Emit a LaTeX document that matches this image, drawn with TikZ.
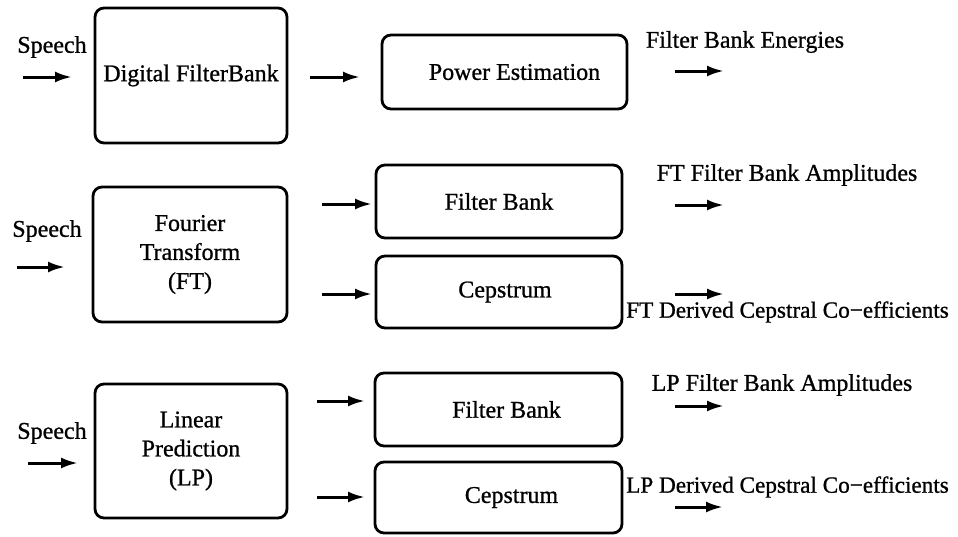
\documentclass[tikz,border=0pt]{standalone}
\usepackage{fontspec}
\setmainfont{Liberation Serif}[FakeBold=0.9]
\usetikzlibrary{arrows.meta}
\tikzset{
  blk/.style={draw, line width=2.8pt, rounded corners=9pt, inner sep=0pt, align=center, font=\fontsize{24}{29}\selectfont},
  lbl/.style={inner sep=0pt, font=\fontsize{24}{29}\selectfont},
  lblw/.style={lbl, anchor=west, font=\fontsize{23.2}{29}\selectfont},
  arr/.style={line width=3pt, -{Latex[length=17pt,width=11pt]}}
}
\begin{document}
\begin{tikzpicture}[x=1pt,y=-1pt]
\useasboundingbox (0,0) rectangle (958,536);
% boxes
\node[blk, minimum width=192pt, minimum height=135pt] (dfb) at (191,75.5) {Digital FilterBank};
\node[blk, minimum width=245pt, minimum height=74pt] (pow) at (504.5,72) {\hspace*{20pt}Power Estimation};
\node[blk, minimum width=194pt, minimum height=135pt] (ft) at (190,254.5) {Fourier\\Transform\\(FT)};
\node[blk, minimum width=246pt, minimum height=73pt] (ftfb) at (499,201.5) {Filter Bank};
\node[blk, minimum width=246pt, minimum height=72pt] (ftcep) at (499,292) {\hspace*{12pt}Cepstrum};
\node[blk, minimum width=192pt, minimum height=134pt] (lp) at (191,451) {Linear\\Prediction\\(LP)};
\node[blk, minimum width=247pt, minimum height=73pt] (lpfb) at (498.5,409.5) {\hspace*{16pt}Filter Bank};
\node[blk, minimum width=247pt, minimum height=71pt] (lpcep) at (498.5,497.5) {\hspace*{26pt}Cepstrum};
% labels
\node[lbl] (s1) at (52,47) {Speech};
\node[lbl] (s2) at (47,231) {Speech};
\node[lbl] (s3) at (52,433) {Speech};
\node[lbl] (o1) at (745,42) {Filter Bank Energies};
\node[lbl] (o2) at (787,175) {FT Filter Bank Amplitudes};
\node[lblw] (o3) at (626,312) {FT Derived Cepstral Co−efficients};
\node[lbl] (o4) at (782,385) {LP Filter Bank Amplitudes};
\node[lblw] (o5) at (626,487) {LP Derived Cepstral Co−efficients};
% arrow end points
\coordinate (a1s) at (23,77);   \coordinate (a1e) at (72,77);
\coordinate (a2s) at (310,77);  \coordinate (a2e) at (360,77);
\coordinate (a3s) at (675,71);  \coordinate (a3e) at (724,71);
\coordinate (a4s) at (17,267);  \coordinate (a4e) at (65,267);
\coordinate (a5s) at (322,204); \coordinate (a5e) at (372,204);
\coordinate (a6s) at (322,294); \coordinate (a6e) at (372,294);
\coordinate (a7s) at (675,205); \coordinate (a7e) at (724,205);
\coordinate (a8s) at (675,294); \coordinate (a8e) at (724,294);
\coordinate (a9s) at (28,463);  \coordinate (a9e) at (78,463);
\coordinate (a10s) at (317,401); \coordinate (a10e) at (365,401);
\coordinate (a11s) at (317,497); \coordinate (a11e) at (365,497);
\coordinate (a12s) at (675,406); \coordinate (a12e) at (724,406);
\coordinate (a13s) at (675,507); \coordinate (a13e) at (723,507);
\foreach \i in {1,...,13} \draw[arr] (a\i s) -- (a\i e);
\end{tikzpicture}
\end{document}
